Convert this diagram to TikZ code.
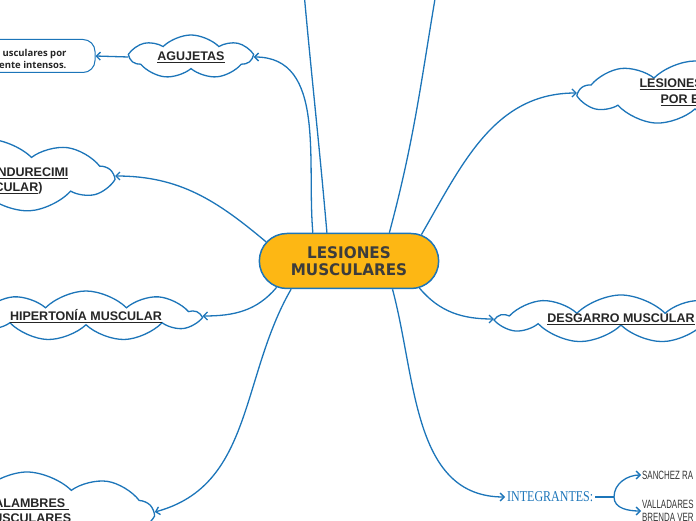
\documentclass[tikz,border=0pt]{standalone}
\usepackage{fontspec}
\setmainfont{Liberation Sans}
\newfontfamily\centrofont[FakeStretch=0.95]{DejaVu Sans}
\newfontfamily\notafont{Open Sans}
\newfontfamily\integfont[FakeStretch=0.8]{Liberation Serif}
\newfontfamily\nombrefont[FakeStretch=0.66]{Liberation Sans}
\usetikzlibrary{positioning, shapes.symbols, shapes.misc, arrows.meta}

\definecolor{azul}{HTML}{1C75B9}
\definecolor{naranja}{HTML}{FDB714}
\definecolor{gristexto}{HTML}{3C3C3C}

\tikzset{
  flecha/.style={-{Straight Barb[length=4pt,width=8pt]}, draw=azul, line width=1.3pt},
  nube/.style={cloud, cloud puffs=#1, cloud puff arc=90, cloud ignores aspect, draw=azul, line width=1.3pt, fill=white, inner sep=0pt},
  nube/.default=8,
  etiqueta/.style={font=\bfseries\fontsize{12.5}{15}\selectfont, text=black!85, align=center},
  nombre/.style={font=\nombrefont\fontsize{12}{13}\selectfont, text=black!80, align=left, inner sep=1pt}
}

\begin{document}
\begin{tikzpicture}[x=1pt, y=1pt]
\useasboundingbox (0,0) rectangle (696,520);
\clip (0,0) rectangle (696,520);

%nodo central
\node (centro) [rounded rectangle, draw=azul, line width=1.5pt, fill=naranja, minimum width=186pt, minimum height=55pt,
  font=\centrofont\bfseries\fontsize{16}{17}\selectfont, text=gristexto, align=center] at (349,259) {LESIONES\\MUSCULARES};

%nubes de la izquierda
\node (agujetas) [nube=7, minimum width=120pt, minimum height=44pt, etiqueta] at (191,463) {\underline{AGUJETAS}};
\node (nota) [draw=azul, line width=1pt, rounded corners=12pt, minimum width=130pt, minimum height=33pt] at (30,464) {};
\node (nota-txt) [anchor=east, font=\notafont\bfseries\fontsize{9.5}{12}\selectfont, align=right, text=black!85] at (70,461) {usculares por\\ente intensos.};

\node (endurecimiento) [nube=9, minimum width=250pt, minimum height=74pt] at (-13,344) {};
\node (endurecimiento-a) [etiqueta, anchor=base east] at (72,343) {\underline{NDURECIMI}};
\node (endurecimiento-b) [etiqueta, anchor=base east] at (46,328) {\underline{CULAR})};

\node (hipertonia) [nube=9, minimum width=225pt, minimum height=50pt, etiqueta] at (86,204) {\underline{HIPERTONÍA MUSCULAR}};
\node (calambres) [nube=9, minimum width=250pt, minimum height=80pt, etiqueta] at (27,8) {\underline{CALAMBRES\ }\\\underline{MUSCULARES}};

%nubes de la derecha
\node (esfuerzo) [nube=9, minimum width=230pt, minimum height=64pt] at (695,427) {};
\node (esfuerzo-a) [etiqueta, anchor=base west] at (636,432) {\underline{LESIONES}};
\node (esfuerzo-b) [etiqueta, anchor=base west] at (657,416) {\underline{POR E}};

\node (desgarro) [nube=9, minimum width=244pt, minimum height=48pt, etiqueta] at (621,201) {\underline{DESGARRO MUSCULAR}};

%integrantes
\node (integrantes) [anchor=west, inner sep=2pt, font=\integfont\fontsize{15}{16}\selectfont, text=azul] at (505,23) {INTEGRANTES:};
\coordinate (rama) at (614,23);
\node (sanchez) [nombre, anchor=west] at (641,45) {SANCHEZ RA};
\node (valladares) [nombre, anchor=west] at (641,9) {VALLADARES\\BRENDA VER};

\coordinate (arriba-izq) at (302,550);
\coordinate (arriba-der) at (440,550);

%conexiones
\draw[flecha] (centro.142) to[out=95,in=0] (agujetas.east);
\draw[flecha] (agujetas.west) -- (nota.east);
\draw[flecha] (centro.128) to[out=95,in=-85] (arriba-izq);
\draw[flecha] (centro.35) to[out=75,in=-100] (arriba-der);
\draw[flecha] (centro.20) to[out=60,in=180] (esfuerzo.west);
\draw[flecha] (centro.167) to[out=140,in=0] (endurecimiento.east);
\draw[flecha] (centro.200) to[out=230,in=0] (hipertonia.east);
\draw[flecha] (centro.339) to[out=-50,in=180] (desgarro.west);
\draw[flecha] (centro.206) to[out=240,in=15] (calambres.east);
\draw[flecha] (centro.327) to[out=-75,in=180] (integrantes.west);

\draw[azul, line width=1.3pt] (integrantes.east) -- (rama);
\draw[flecha] (rama) to[out=90,in=180] (sanchez.west);
\draw[flecha] (rama) to[out=-90,in=180] (valladares.west);

\end{tikzpicture}
\end{document}
